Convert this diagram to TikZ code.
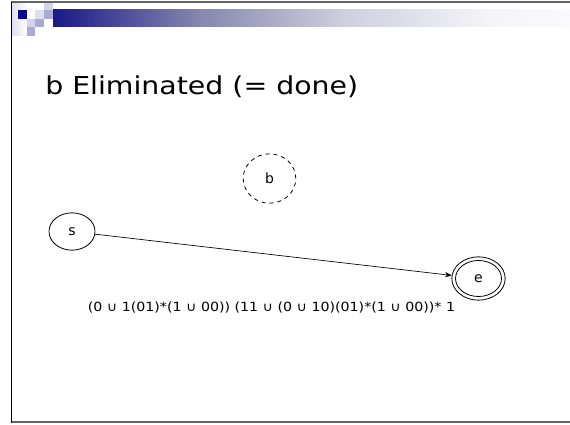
\documentclass[tikz,border=0pt]{standalone}
\usepackage{fontspec}
\setmainfont{DejaVu Sans}
\usetikzlibrary{arrows.meta,shapes.geometric}
\definecolor{navy}{RGB}{10,10,140}
\definecolor{sqlight}{RGB}{210,210,235}
\definecolor{sqmed}{RGB}{170,170,215}
\definecolor{barA}{RGB}{25,25,135}
\definecolor{barB}{RGB}{135,135,175}
\definecolor{barC}{RGB}{205,205,222}
\definecolor{barD}{RGB}{245,245,248}
\definecolor{barE}{RGB}{250,250,252}
\definecolor{framegrey}{RGB}{100,100,100}
\tikzset{
  state/.style={draw, ellipse, line width=0.6pt, inner sep=0pt, font=\fontsize{10.5}{12}\selectfont},
  edge/.style={-{Stealth[length=5pt,width=4pt]}, line width=0.5pt}
}
\begin{document}
\begin{tikzpicture}[x=0.75pt,y=-0.75pt]
\useasboundingbox (0,0) rectangle (570,424);
% frame
\draw[framegrey, line width=1.5pt] (11,2.5) -- (570,2.5);
\draw[framegrey, line width=1.8pt] (11,422) -- (570,422);
\draw[black, line width=1.2pt] (11.5,2) -- (11.5,423);
% header decoration
\shade[left color={rgb,255:red,225;green,225;blue,242}, right color=white] (12.5,4) rectangle (27,36);
\fill[navy] (18,10) rectangle (27,19);
\fill[sqlight] (44,3.5) rectangle (53,10);
\fill[sqlight!70!white] (35,10) rectangle (44,19);
\fill[sqmed] (44,10) rectangle (53,19);
\fill[sqlight] (27,19) rectangle (35,27);
\fill[sqmed] (35,19) rectangle (44,27);
\fill[sqmed] (27,27) rectangle (35,36);
\shade[left color=barA, right color=barB] (53,10) rectangle (200.5,27);
\shade[left color=barB, right color=barC] (200,10) rectangle (340.5,27);
\shade[left color=barC, right color=barD] (340,10) rectangle (490.5,27);
\shade[left color=barD, right color=barE] (490,10) rectangle (570,27);
% title
\node[anchor=base west, inner sep=0pt, font=\fontsize{18.5}{22}\selectfont] (title) at (45,95) {\scalebox{1.15}[1]{b Eliminated (= done)}};
% states
\node[state, dashed, minimum width=39.5pt, minimum height=37pt] (b) at (269.5,178.5) {b};
\node[state, minimum width=34.5pt, minimum height=28pt] (s) at (72,231.5) {s};
\node[state, minimum width=40pt, minimum height=32.5pt] (e) at (478.5,278.5) {};
\node[state, minimum width=34.5pt, minimum height=27pt] (ei) at (478.5,278.5) {e};
% transition
\draw[edge] (s) -- (e);
\node[anchor=base, inner sep=0pt, font=\fontsize{9.5}{11}\selectfont] (lbl) at (271.5,311) {\scalebox{1.12}[1]{(0 ∪ 1(01)*(1 ∪ 00)) (11 ∪ (0 ∪ 10)(01)*(1 ∪ 00))* 1}};
\end{tikzpicture}
\end{document}
